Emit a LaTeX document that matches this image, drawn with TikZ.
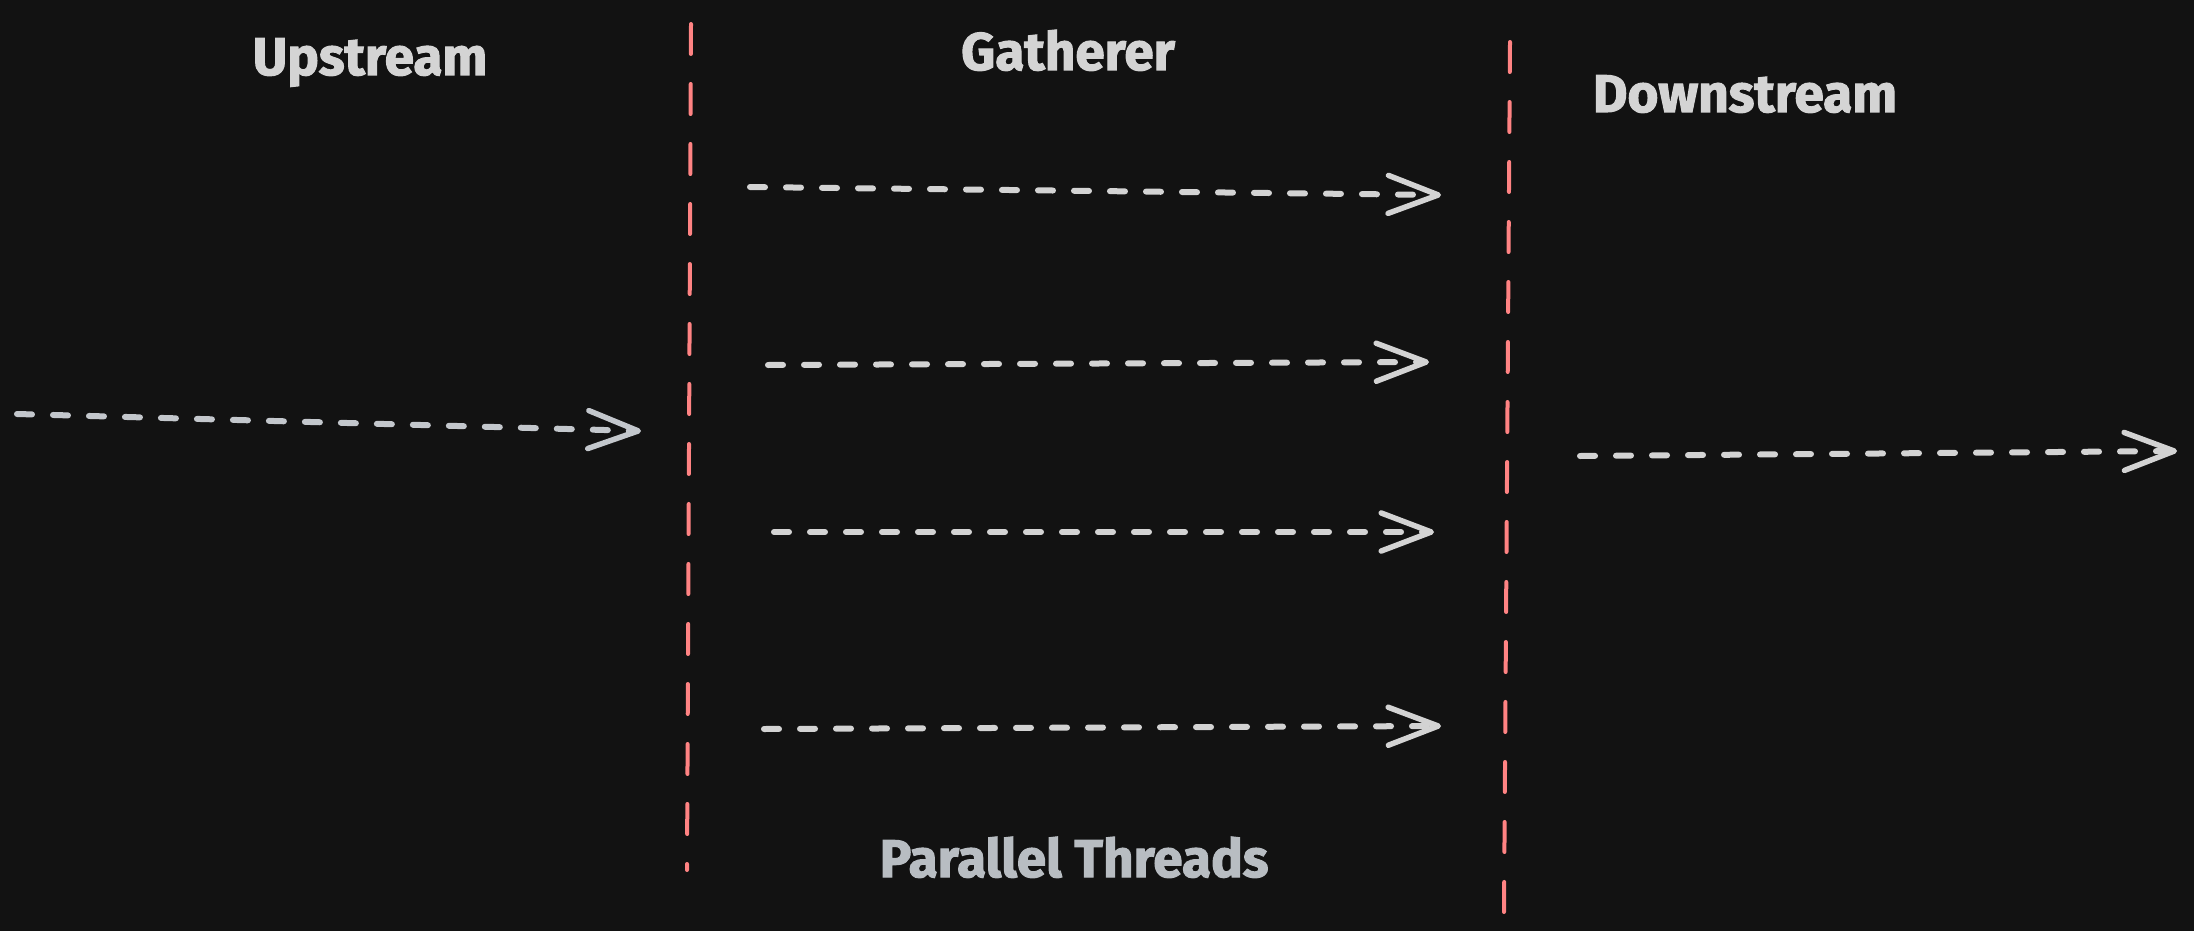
\documentclass[tikz,border=0pt]{standalone}
\usepackage{fontspec}
\setmainfont{Fira Sans}[BoldFeatures={FakeBold=2}]
\usetikzlibrary{arrows.meta}

\definecolor{bgdark}{HTML}{121212}
\definecolor{titlegray}{HTML}{D4D4D4}
\definecolor{subgray}{HTML}{B8BDC2}
\definecolor{dividerred}{HTML}{FF8383}
\definecolor{flowgray}{HTML}{D3D3D3}
\definecolor{upgray}{HTML}{C3C7CC}

\begin{document}
\begin{tikzpicture}[x=1pt,y=-1pt]
			\tikzstyle{heading}=[font=\fontsize{53}{62}\selectfont\bfseries, text=titlegray, anchor=base, inner sep=0pt]
			\tikzstyle{divider}=[draw=dividerred, line width=4pt, line cap=round, dash pattern=on 30pt off 30pt]
			\tikzstyle{flow}=[draw=flowgray, line width=6pt, line cap=round, dash pattern=on 15pt off 21pt, -{Straight Barb[length=50pt, width=38pt, line width=5.5pt, round]}]
			
			\fill[bgdark] (0,0) rectangle (2194,931);
			\useasboundingbox (0,0) rectangle (2194,931);
			
			\node[heading] (upstream) at (370,75) {Upstream};
			\node[heading] (gatherer) at (1068,70) {Gatherer};
			\node[heading] (downstream) at (1745,112) {Downstream};
			\node[heading, text=subgray] (threads) at (1074,877) {Parallel Threads};
			
			\coordinate (div1-top) at (691,24);
			\coordinate (div1-bot) at (687,870);
			\coordinate (div2-top) at (1510,42);
			\coordinate (div2-bot) at (1504,912);
			\draw[divider] (div1-top) -- (div1-bot);
			\draw[divider] (div2-top) -- (div2-bot);
			
			\coordinate (up-in) at (17,414);
			\coordinate (up-out) at (641,431);
			\coordinate (t1-in) at (750,187);
			\coordinate (t1-out) at (1441,195);
			\coordinate (t2-in) at (768,365);
			\coordinate (t2-out) at (1429,362);
			\coordinate (t3-in) at (774,532);
			\coordinate (t3-out) at (1434,532);
			\coordinate (t4-in) at (764,729);
			\coordinate (t4-out) at (1441,726);
			\coordinate (down-in) at (1580,456);
			\coordinate (down-out) at (2177,451);
			
			\draw[flow, draw=upgray] (up-in) -- (up-out);
			\draw[flow] (t1-in) -- (t1-out);
			\draw[flow] (t2-in) -- (t2-out);
			\draw[flow] (t3-in) -- (t3-out);
			\draw[flow] (t4-in) -- (t4-out);
			\draw[flow] (down-in) -- (down-out);
\end{tikzpicture}
\end{document}
